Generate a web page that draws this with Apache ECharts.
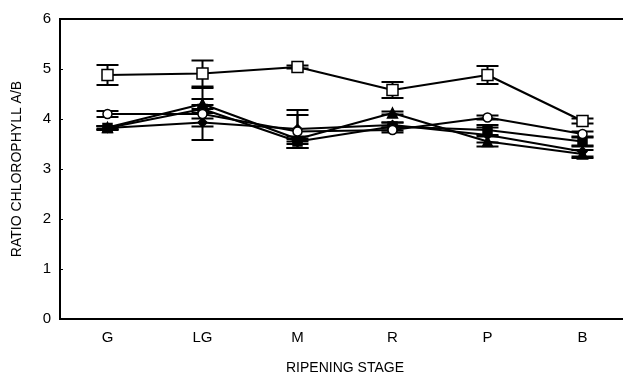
<!DOCTYPE html>
<html>
<head>
<meta charset="utf-8">
<script src="https://cdn.jsdelivr.net/npm/echarts@6/dist/echarts.min.js"></script>
<style>
  html, body { margin: 0; padding: 0; background: #fff; }
  #chart { width: 623px; height: 375px; }
</style>
</head>
<body>
<div id="chart"></div>
<script>
const stages = ["G", "LG", "M", "R", "P", "B"];
const yTicks = [0, 1, 2, 3, 4, 5, 6];

// five ripening series, mean ratio and +/- error
const openSquare = [4.88, 4.91, 5.04, 4.58, 4.88, 3.96];
const openSquareErr = [0.2, 0.26, 0.03, 0.16, 0.18, 0.05];
const openCircle = [4.1, 4.1, 3.75, 3.78, 4.03, 3.7];
const openCircleErr = [0.06, 0.52, 0.33, 0.05, 0.04, 0.05];
const filledTriangle = [3.83, 4.3, 3.6, 4.12, 3.55, 3.3];
const filledTriangleErr = [0.03, 0.1, 0.05, 0.03, 0.1, 0.08];
const filledSquare = [3.82, 4.2, 3.55, 3.85, 3.78, 3.55];
const filledSquareErr = [0.04, 0.08, 0.05, 0.08, 0.1, 0.08];
const filledDiamond = [3.82, 3.93, 3.8, 3.88, 3.68, 3.35];
const filledDiamondErr = [0.03, 0.08, 0.38, 0.05, 0.15, 0.1];

const font = "Liberation Sans";

const errorSeries = (values, errs) => ({
  type: "custom",
  silent: true,
  z: 1,
  data: values.map((v, i) => [i, v - errs[i], v + errs[i]]),
  renderItem: (params, api) => {
    const lo = api.coord([api.value(0), api.value(1)]);
    const hi = api.coord([api.value(0), api.value(2)]);
    const half = 11;
    const style = { stroke: "#000", lineWidth: 2 };
    return {
      type: "group",
      children: [
        { type: "line", shape: { x1: hi[0], y1: hi[1], x2: lo[0], y2: lo[1] }, style: style },
        { type: "line", shape: { x1: hi[0] - half, y1: hi[1], x2: hi[0] + half, y2: hi[1] }, style: style },
        { type: "line", shape: { x1: lo[0] - half, y1: lo[1], x2: lo[0] + half, y2: lo[1] }, style: style }
      ]
    };
  }
});

const lineSeries = (values, symbol, size, fill) => ({
  type: "line",
  data: values,
  symbol: symbol,
  symbolSize: size,
  showAllSymbol: true,
  z: 3,
  lineStyle: { color: "#000", width: 2.2 },
  itemStyle: { color: fill, borderColor: "#000", borderWidth: 1.5 }
});

const chart = echarts.init(document.getElementById("chart"));
chart.setOption({
  animation: false,
  backgroundColor: "#fff",
  grid: {
    left: 60, top: 19, width: 570, height: 300,
    show: true, borderColor: "#000", borderWidth: 2,
    outerBoundsMode: "none"
  },
  xAxis: {
    type: "category",
    data: stages,
    boundaryGap: true,
    name: "RIPENING STAGE",
    nameLocation: "middle",
    nameGap: 42,
    nameTextStyle: { fontFamily: font, fontSize: 14, color: "#000" },
    axisLine: { lineStyle: { color: "#000", width: 2 } },
    axisTick: { inside: true, length: 3, lineStyle: { color: "#000" } },
    axisLabel: { fontFamily: font, fontSize: 15, color: "#000", margin: 11 },
    splitLine: { show: false }
  },
  yAxis: {
    type: "value",
    min: yTicks[0],
    max: yTicks[yTicks.length - 1],
    interval: 1,
    name: "RATIO CHLOROPHYLL A/B",
    nameLocation: "middle",
    nameGap: 36,
    nameTextStyle: { fontFamily: font, fontSize: 14, color: "#000" },
    axisLine: { show: true, lineStyle: { color: "#000", width: 2 } },
    axisTick: { show: true, inside: true, length: 3, lineStyle: { color: "#000" } },
    axisLabel: { fontFamily: font, fontSize: 15, color: "#000", margin: 9 },
    splitLine: { show: false }
  },
  series: [
    errorSeries(openSquare, openSquareErr),
    errorSeries(openCircle, openCircleErr),
    errorSeries(filledTriangle, filledTriangleErr),
    errorSeries(filledSquare, filledSquareErr),
    errorSeries(filledDiamond, filledDiamondErr),
    lineSeries(filledDiamond, "diamond", 9, "#000"),
    lineSeries(filledSquare, "rect", 9, "#000"),
    lineSeries(filledTriangle, "triangle", 10, "#000"),
    lineSeries(openCircle, "circle", 9, "#fff"),
    lineSeries(openSquare, "rect", 11, "#fff")
  ]
});
</script>
</body>
</html>
